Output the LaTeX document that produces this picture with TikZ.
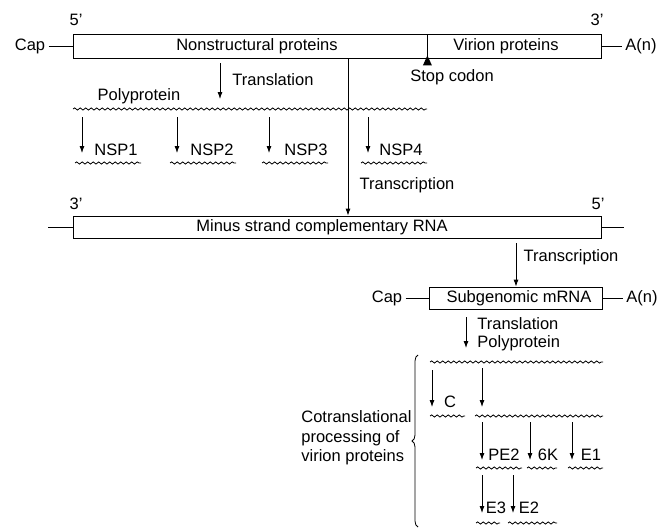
\documentclass[tikz,border=0pt]{standalone}
\usepackage{fontspec}
\setmainfont{Liberation Sans}
\usetikzlibrary{positioning, arrows.meta, decorations.pathmorphing, decorations.pathreplacing}

\begin{document}
\begin{tikzpicture}[x=1pt, y=-1pt, >={Latex[length=7pt,width=5pt]}, line width=0.8pt,
	every node/.style={font=\fontsize{16.5}{19.5}\selectfont, inner sep=3pt},
	rna/.style={draw, minimum height=24pt, inner sep=0pt},
	wavy/.style={decorate, decoration={snake, segment length=5.5pt, amplitude=1.1pt}}]
		\useasboundingbox (0,0) rectangle (663,527);
		% Genomic RNA
		\node[rna, minimum width=354pt] (nsbox) at (250,46) {};
		\node[rna, minimum width=174pt] (vpbox) at (514,46) {};
		\node (nstext) at (257,46) {Nonstructural proteins};
		\node (vptext) at (506,46) {Virion proteins};
		\node (cap1) at (30,46) {Cap};
		\node (an1) at (641,46) {A(n)};
		\draw (cap1) -- (nsbox.west);
		\draw (vpbox.east) -- (an1);
		\node (five1) at (76,20) {5'};
		\node (three1) at (597,20) {3'};
		% Stop codon
		\fill (nsbox.south east) ++(0,-3) -- ++(-4.5,10) -- ++(9,0) -- cycle;
		\node (stop) at (452,77) {Stop codon};
		% Translation to polyprotein
		\coordinate (trl) at (220,63);
		\draw[->] (trl) -- ++(0,36);
		\node (trltext) at (273,80) {Translation};
		\node (poly1) at (139,96) {Polyprotein};
		\draw[wavy] (73,109) -- (427,109);
		% Cleavage products
		\foreach \x/\lx [count=\i] in {82/116, 177/212, 269/306, 368/401} {
			\draw[->] (\x,117) -- (\x,153);
			\node (nsp\i) at (\lx,150) {NSP\i};
			\draw[wavy] (\x-7,163) -- (\x+59,163);
		}
		% Minus strand
		\node[rna, minimum width=528pt, minimum height=22pt] (minusbox) at (337,227) {};
		\node (minustext) at (322,227) {Minus strand complementary RNA};
		\draw (minusbox.west) -- ++(-25,0);
		\draw (minusbox.east) -- ++(23,0);
		\node (three2) at (76,204) {3'};
		\node (five2) at (598,204) {5'};
		\coordinate (tx1) at (348,0);
		\draw[->] (nsbox.south -| tx1) -- (minusbox.north -| tx1);
		\node (trc1) at (407,185) {Transcription};
		% Subgenomic mRNA
		\node[rna, minimum width=173pt, minimum height=22pt] (subbox) at (515.5,298) {};
		\node (subtext) at (519,298) {Subgenomic mRNA};
		\node (cap2) at (387,298) {Cap};
		\node (an2) at (642,298) {A(n)};
		\draw (cap2) -- (subbox.west);
		\draw (subbox.east) -- (an2);
		\coordinate (tx2) at (516,0);
		\draw[->, shorten <=5pt] (minusbox.south -| tx2) -- (subbox.north -| tx2);
		\node (trc2) at (571,257) {Transcription};
		% Virion proteins
		\coordinate (tx3) at (466,0);
		\draw[->, shorten <=8pt] (subbox.south -| tx3) -- (466,348);
		\node[anchor=west] (trl2) at (474,324) {Translation};
		\node[anchor=west] (poly2) at (474,343) {Polyprotein};
		\draw[wavy] (430,362) -- (603,362);
		\draw[decorate, decoration={brace, amplitude=6pt}] (418,527) -- (418,355);
		\node[anchor=west, align=left] (cotr) at (298,438) {Cotranslational\\processing of\\virion proteins};
		\draw[->] (432,370) -- (432,407);
		\node (c) at (450,402) {C};
		\draw[wavy] (430,416) -- (465,416);
		\draw[->] (482,368) -- (482,407);
		\draw[wavy] (475,416) -- (603,416);
		\foreach \x/\lx/\name/\wa/\wb in {482/504/PE2/476/522, 530/548/6K/527/557, 572/591/E1/568/603} {
			\draw[->] (\x,422) -- (\x,460);
			\node (\name) at (\lx,455) {\name};
			\draw[wavy] (\wa,468) -- (\wb,468);
		}
		\foreach \x/\lx/\name/\wa/\wb in {482/496/E3/476/500, 513/529/E2/508/557} {
			\draw[->] (\x,475) -- (\x,513);
			\node (\name) at (\lx,508) {\name};
			\draw[wavy] (\wa,523) -- (\wb,523);
		}
	\end{tikzpicture}
\end{document}
